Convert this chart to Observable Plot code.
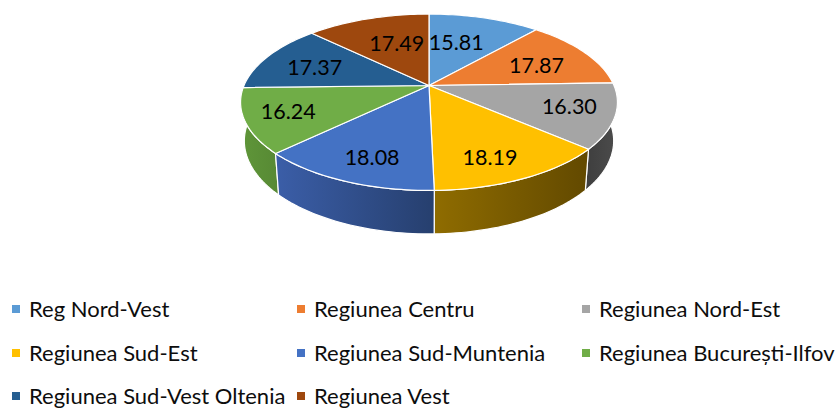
<!DOCTYPE html>
<html><head><meta charset="utf-8">
<script src="https://cdn.jsdelivr.net/npm/d3@7"></script>
<script src="https://cdn.jsdelivr.net/npm/@observablehq/plot@0.6"></script>
<style>
html,body{margin:0;padding:0;background:#fff;overflow:hidden}
#c{position:relative;width:838px;height:409px;font-family:Lato,sans-serif;color:#0d0d0d}
#c svg{position:absolute;left:0;top:0;font-family:Lato,sans-serif}
.k{position:absolute;white-space:nowrap;font-size:22px;line-height:20px}
.k i{position:absolute;left:-17px;top:6px;width:8px;height:8px}
</style></head><body><div id="c"></div>
<script>
const regions = ["Reg Nord-Vest","Regiunea Centru","Regiunea Nord-Est","Regiunea Sud-Est","Regiunea Sud-Muntenia","Regiunea București-Ilfov","Regiunea Sud-Vest Oltenia","Regiunea Vest"];
const values = [15.81,17.87,16.30,18.19,18.08,16.24,17.37,17.49];
const colors = ["#5b9bd5","#ed7d31","#a5a5a5","#ffc000","#4472c4","#70ad47","#255e91","#9e480e"];
const wallLeft  = ["#5b9bd5","#ed7d31","#3e3e3e","#8f6c00","#3b5ea8","#5f9639","#255e91","#9e480e"];
const wallRight = ["#5b9bd5","#ed7d31","#4c4c4c","#624900","#263f6e","#578934","#255e91","#9e480e"];
// layout (not data)
const labelNudge = [[-12.5,6],[-0.5,4],[16.5,1],[0.5,13],[-2.5,12],[-18.5,3],[-2.5,3],[11.5,6]];
const wallOrder = [0,7,1,6,2,5,3,4];
const k = 0.19, bottomScale = {sx:0.98, sy:1.055, drop:0.444};

const total = d3.sum(values);
const cum = d3.cumsum(values);
const slices = values.map((v,i)=>({i, a0:(i?cum[i-1]:0)/total*2*Math.PI, a1:cum[i]/total*2*Math.PI}));
function proj(t, r=1, lvl=null){
  const u=r*Math.sin(t), v=r*Math.cos(t), w=1+k*v;
  return lvl ? {x:lvl.sx*u/w, y:lvl.sy*v/w-lvl.drop} : {x:u/w, y:v/w};
}
const arc = (s)=>{const n=Math.max(8,Math.ceil((s.a1-s.a0)*40));return d3.range(n+1).map(j=>s.a0+(s.a1-s.a0)*j/n);};
const topPoly = s=>{const p=[proj(0,0),...arc(s).map(t=>proj(t))];p.push(p[0]);return p;};
const wallPoly = s=>{const a=arc(s);const p=[...a.map(t=>proj(t)),...a.slice().reverse().map(t=>proj(t,1,bottomScale))];p.push(p[0]);return p;};

const defs = ()=>{
  const d=d3.create("svg:defs");
  values.forEach((_,i)=>{
    const g=d.append("linearGradient").attr("id","w"+i).attr("x1",0).attr("x2",1).attr("y1",0).attr("y2",0);
    g.append("stop").attr("offset",0).attr("stop-color",wallLeft[i]);
    g.append("stop").attr("offset",1).attr("stop-color",wallRight[i]);
  });
  return d.node();
};
const lineOpts = {x:"x",y:"y",curve:"linear",stroke:"#fff",strokeWidth:1.2,strokeLinejoin:"round"};
const marks=[defs];
wallOrder.forEach(i=>marks.push(Plot.line(wallPoly(slices[i]),{...lineOpts,fill:`url(#w${i})`})));
slices.forEach(s=>marks.push(Plot.line(topPoly(s),{...lineOpts,fill:colors[s.i]})));
slices.forEach(s=>{
  const p=proj((s.a0+s.a1)/2,0.68);
  marks.push(Plot.text([{...p,t:values[s.i].toFixed(2)}],{x:"x",y:"y",text:"t",fill:"#000",fontSize:21.5,dx:labelNudge[s.i][0],dy:labelNudge[s.i][1],textAnchor:"middle",lineAnchor:"middle"}));
});
const plot=Plot.plot({width:838,height:290,margin:0,
  x:{axis:null,domain:[-1,1],range:[243.5,613.5]},
  y:{axis:null,domain:[-1,1],range:[170,0]},
  marks});
const c=document.getElementById("c");
c.appendChild(plot);
const colX=[29,314,599], rowY=[299,343,386];
regions.forEach((r,i)=>{
  const e=document.createElement("div");e.className="k";
  e.style.left=colX[i%3]+"px";e.style.top=rowY[Math.floor(i/3)]+"px";
  e.textContent=r;
  const b=document.createElement("i");b.style.background=colors[i];e.prepend(b);
  c.appendChild(e);
});
</script></body></html>
